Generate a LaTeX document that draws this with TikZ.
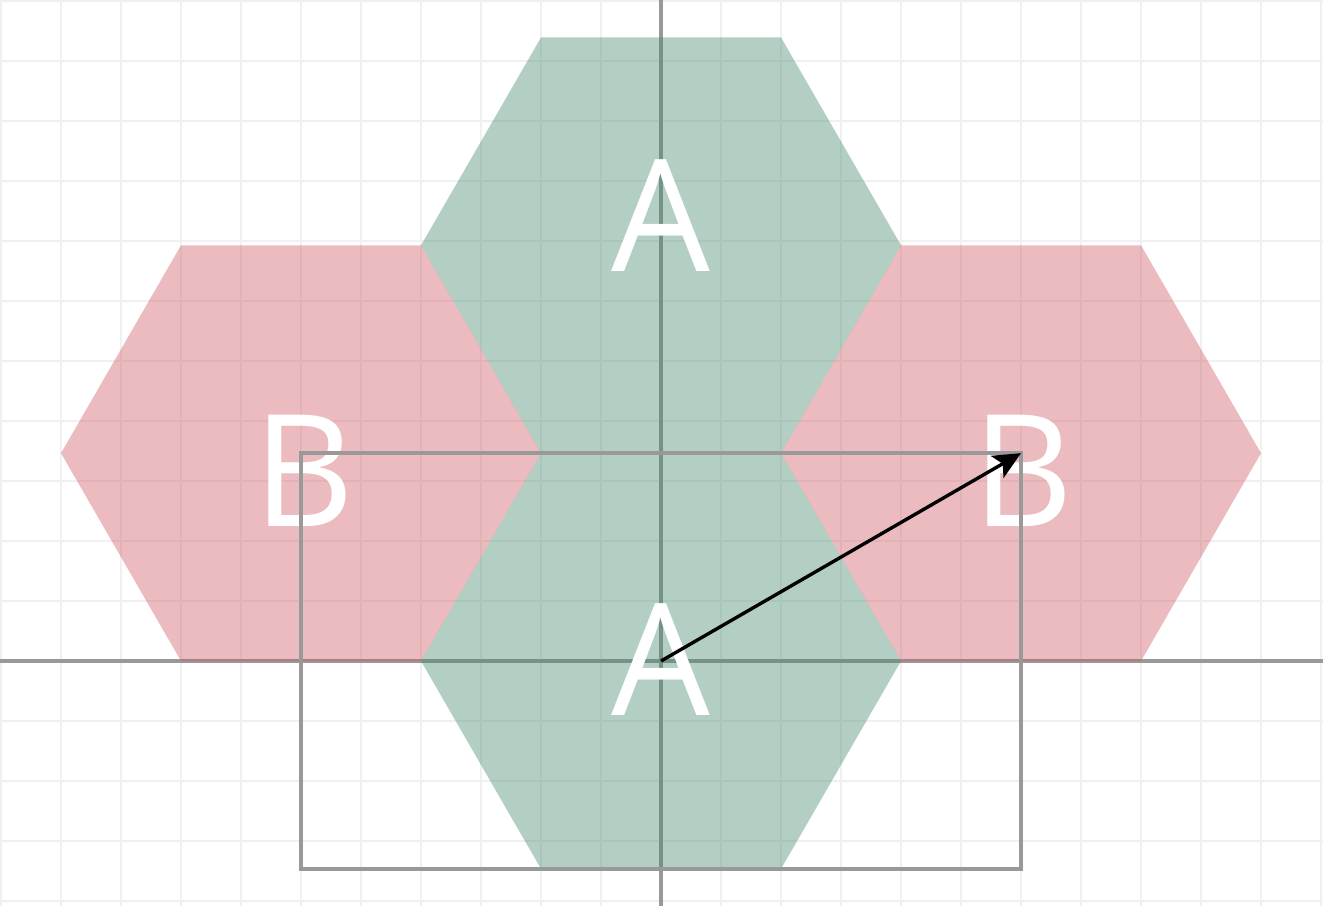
\documentclass[tikz,border=0pt]{standalone}
\usepackage{fontspec}
\setmainfont{Open Sans}
\usetikzlibrary{arrows.meta}
\definecolor{gridc}{HTML}{F0F0F0}
\definecolor{axisc}{HTML}{999999}
\definecolor{hexA}{RGB}{65,137,105}
\definecolor{hexB}{RGB}{205,87,97}
\tikzset{
  gridline/.style={draw=gridc, line width=1.3pt},
  axisline/.style={draw=axisc, line width=1.6pt},
  hexa/.style={fill=hexA, fill opacity=0.4},
  hexb/.style={fill=hexB, fill opacity=0.4},
  lbl/.style={text=white, inner sep=0pt, font=\fontsize{74}{74}\selectfont},
  vec/.style={draw=black, line width=1.6pt, -{Stealth[length=13pt,width=12pt,inset=3pt]}}
}
\begin{document}
\begin{tikzpicture}[x=1cm,y=1cm]
\useasboundingbox (-11.017,-4.083) rectangle (11.033,11.017);
\fill[white] (-11.017,-4.083) rectangle (11.033,11.017);
% grid
\foreach \i in {-11,...,11} \draw[gridline] (\i,-4.2) -- (\i,11.1);
\foreach \j in {-4,...,11} \draw[gridline] (-11.1,\j) -- (11.1,\j);
% axes
\draw[axisline] (0,-4.2) -- (0,11.1);
\draw[axisline] (-11.1,0) -- (11.1,0);
% hexagons
\fill[hexa] (4,0) -- ++(120:4) -- ++(180:4) -- ++(240:4) -- ++(300:4) -- ++(0:4) -- cycle;
\fill[hexa] (4,6.9282) -- ++(120:4) -- ++(180:4) -- ++(240:4) -- ++(300:4) -- ++(0:4) -- cycle;
\fill[hexb] (-2,3.4641) -- ++(120:4) -- ++(180:4) -- ++(240:4) -- ++(300:4) -- ++(0:4) -- cycle;
\fill[hexb] (10,3.4641) -- ++(120:4) -- ++(180:4) -- ++(240:4) -- ++(300:4) -- ++(0:4) -- cycle;
% labels
\node[lbl] (a1) at (0,7.43) {A};
\node[lbl] (a2) at (0,0.02) {A};
\node[lbl] (b1) at (-5.95,3.17) {B};
\node[lbl] (b2) at (6.03,3.17) {B};
% rectangle
\draw[axisline] (-6,3.4641) rectangle (6,-3.4641);
% arrow
\coordinate (o) at (0,0);
\coordinate (t) at (6,3.4641);
\draw[vec] (o) -- (t);
\end{tikzpicture}
\end{document}
